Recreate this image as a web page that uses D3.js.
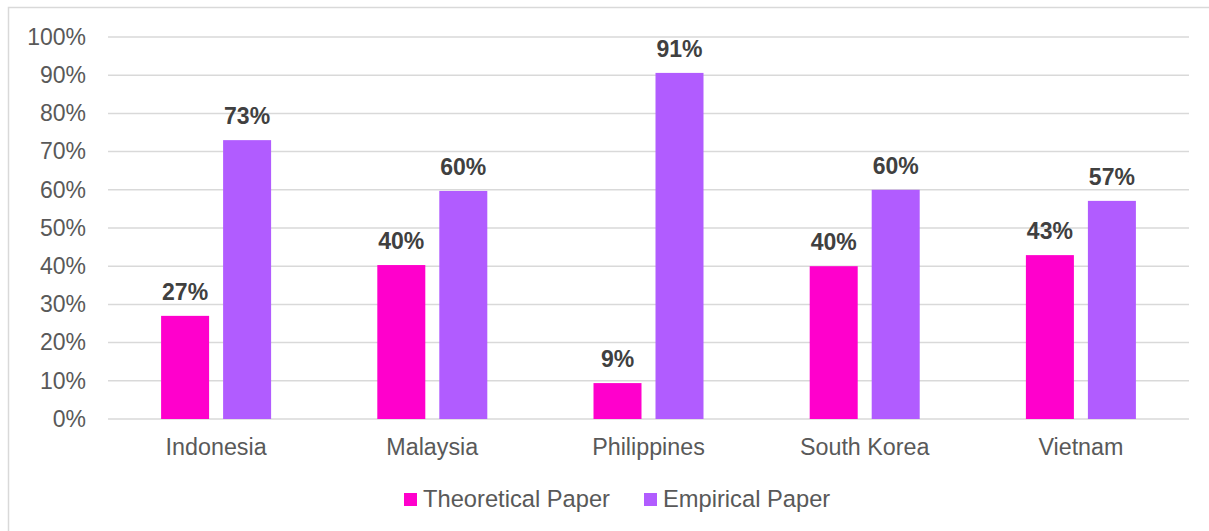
<!DOCTYPE html>
<html>
<head>
<meta charset="utf-8">
<script src="https://cdn.jsdelivr.net/npm/d3@7"></script>
<style>
  body { margin: 0; background: #fff; }
  text { font-family: "Liberation Sans", Arial, sans-serif; }
</style>
</head>
<body>
<div id="chart"></div>
<script>
var categories = [ "Indonesia", "Malaysia", "Philippines", "South Korea", "Vietnam" ];
var seriesNames = [ "Theoretical Paper", "Empirical Paper" ];
var theoretical = [ 0.27, 0.403, 0.094, 0.40, 0.429 ];
var empirical = [ 0.73, 0.597, 0.906, 0.60, 0.571 ];
var yTicks = [ 0, 0.1, 0.2, 0.3, 0.4, 0.5, 0.6, 0.7, 0.8, 0.9, 1.0 ];
var colors = [ "#ff00cc", "#b15cff" ];

var width = 1209;
var height = 531;
var plotLeft = 108, plotRight = 1189, plotTop = 37, plotBottom = 419;

var svg = d3.select( "#chart" ).append( "svg" )
    .attr( "width", width )
    .attr( "height", height );

// outer chart frame
svg.append( "rect" )
    .attr( "x", 8.5 ).attr( "y", 7.5 )
    .attr( "width", 1230 ).attr( "height", 560 )
    .attr( "fill", "none" )
    .attr( "stroke", "#d9d9d9" )
    .attr( "stroke-width", 1.5 );

var y = d3.scaleLinear().domain( [ 0, 1 ] ).range( [ plotBottom, plotTop ] );
var x0 = d3.scaleBand().domain( categories ).range( [ plotLeft, plotRight ] ).padding( 0 );
var x1 = d3.scaleBand().domain( seriesNames ).range( [ 0, 110 ] ).paddingInner( 14 / 62 );
var groupOffset = ( x0.bandwidth() - 110 ) / 2;

// gridlines
svg.append( "g" ).selectAll( "line" )
    .data( yTicks )
    .enter().append( "line" )
    .attr( "x1", plotLeft ).attr( "x2", plotRight )
    .attr( "y1", function( d ) { return y( d ); })
    .attr( "y2", function( d ) { return y( d ); })
    .attr( "stroke", "#d9d9d9" )
    .attr( "stroke-width", 1.5 );

// y axis labels
var yAxis = d3.axisLeft( y ).tickValues( yTicks ).tickFormat( d3.format( ".0%" ) ).tickSize( 0 ).tickPadding( 22 );
var yg = svg.append( "g" ).attr( "transform", "translate(" + plotLeft + ",0)" ).call( yAxis );
yg.select( ".domain" ).remove();
yg.selectAll( "text" )
    .style( "font-size", "23px" )
    .style( "font-family", "Liberation Sans, Arial, sans-serif" )
    .attr( "fill", "#595959" );

// x axis labels
var xAxis = d3.axisBottom( x0 ).tickSize( 0 ).tickPadding( 19 );
var xg = svg.append( "g" ).attr( "transform", "translate(0," + plotBottom + ")" ).call( xAxis );
xg.select( ".domain" ).remove();
xg.selectAll( "text" )
    .style( "font-size", "23.3px" )
    .style( "font-family", "Liberation Sans, Arial, sans-serif" )
    .attr( "fill", "#595959" );

var rows = categories.map( function( c, i ) {
    return { cat: c, values: [ theoretical[ i ], empirical[ i ] ] };
});

var groups = svg.append( "g" ).selectAll( "g" )
    .data( rows )
    .enter().append( "g" )
    .attr( "transform", function( d ) { return "translate(" + ( x0( d.cat ) + groupOffset ) + ",0)"; });

var fmt = d3.format( ".0%" );

groups.selectAll( "rect" )
    .data( function( d ) { return d.values.map( function( v, j ) { return { s: seriesNames[ j ], v: v, j: j }; }); })
    .enter().append( "rect" )
    .attr( "x", function( d ) { return x1( d.s ); })
    .attr( "width", x1.bandwidth() )
    .attr( "y", function( d ) { return y( d.v ); })
    .attr( "height", function( d ) { return plotBottom - y( d.v ); })
    .attr( "fill", function( d ) { return colors[ d.j ]; });

groups.selectAll( "text.lbl" )
    .data( function( d ) { return d.values.map( function( v, j ) { return { s: seriesNames[ j ], v: v }; }); })
    .enter().append( "text" )
    .attr( "class", "lbl" )
    .attr( "x", function( d ) { return x1( d.s ) + x1.bandwidth() / 2; })
    .attr( "y", function( d ) { return y( d.v ) - 16; })
    .attr( "text-anchor", "middle" )
    .style( "font-size", "23px" )
    .style( "font-weight", "bold" )
    .attr( "fill", "#404040" )
    .text( function( d ) { return fmt( d.v ); });

// legend
var legendX = [ 404, 644 ];
var legend = svg.append( "g" ).selectAll( "g" )
    .data( seriesNames )
    .enter().append( "g" )
    .attr( "transform", function( d, i ) { return "translate(" + legendX[ i ] + ",493)"; });

legend.append( "rect" )
    .attr( "width", 13 ).attr( "height", 13 )
    .attr( "fill", function( d, i ) { return colors[ i ]; });

legend.append( "text" )
    .attr( "x", 19 ).attr( "y", 14 )
    .style( "font-size", "23.7px" )
    .attr( "fill", "#595959" )
    .text( function( d ) { return d; });
</script>
</body>
</html>
